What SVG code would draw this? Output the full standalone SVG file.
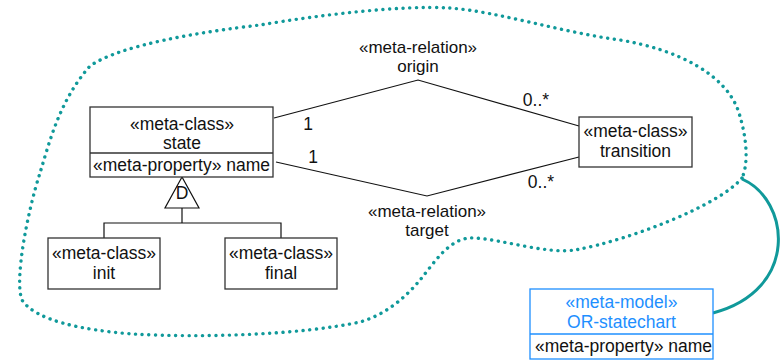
<svg xmlns="http://www.w3.org/2000/svg" width="782" height="361" viewBox="0 0 782 361">
  <style>
    .box { fill: #ffffff; stroke: #333333; stroke-width: 1.3; }
    .mbox { fill: #ffffff; stroke: #1e8fff; stroke-width: 1.3; }
    .line { fill: none; stroke: #111111; stroke-width: 1.2; }
    .t { font-family: "Liberation Sans", Arial, sans-serif; font-size: 17.5px; fill: #111111; }
    .r { font-size: 17px; }
    .c { text-anchor: middle; }
    .blue { fill: #1e8fff; }
    .blob { fill: none; stroke: #10999a; stroke-width: 3.4; stroke-linecap: round; stroke-dasharray: 0.1 6.6; }
    .link { fill: none; stroke: #10999a; stroke-width: 3; }
  </style>
  <rect width="782" height="361" fill="#ffffff"/>

  <!-- package boundary -->
  <path class="blob" d="M 742 178 C 720 205, 630 240, 575 250 C 545 254, 505 240, 475 238 C 450 236, 435 262, 420 280 C 405 298, 385 315, 360 322 C 300 335, 200 338, 133 334 C 80 330, 35 320, 22 300 C 14 280, 28 210, 40 173 C 50 140, 60 100, 90 66 C 120 45, 200 32, 260 25 C 320 15, 400 5, 450 8 C 500 12, 560 32, 620 40 C 680 50, 725 75, 738 110 C 748 140, 748 165, 742 178 Z"/>

  <g id="connectors">
    <path class="link" d="M 742 179 C 790 200, 800 290, 713 313"/>
    <polyline class="line" points="274,118 418,80 579,126"/>
    <polyline class="line" points="276,162 427,196 579,157"/>
    <polygon class="line" points="182,177 165,208 199,208" fill="#ffffff"/>
    <polyline class="line" points="182,208 182,223"/>
    <polyline class="line" points="104,238 104,223 281,223 281,238"/>
    <text class="t" x="182" y="199" text-anchor="middle" font-size="16">D</text>
    <text class="t r c" x="418" y="53">«meta-relation»</text>
    <text class="t r c" x="418" y="72">origin</text>
    <text class="t r c" x="427" y="217">«meta-relation»</text>
    <text class="t r c" x="427" y="236">target</text>
    <text class="t c" x="308" y="130">1</text>
    <text class="t c" x="313" y="163">1</text>
    <text class="t c" x="536" y="106">0..*</text>
    <text class="t c" x="541" y="188">0..*</text>
  </g>

  <g id="state">
    <rect class="box" x="90" y="107" width="183" height="70"/>
    <line class="box" x1="90" y1="153" x2="273" y2="153"/>
    <text class="t c" x="182" y="130">«meta-class»</text>
    <text class="t c" x="182" y="149">state</text>
    <text class="t" x="93" y="171">«meta-property» name</text>
  </g>

  <g id="transition">
    <rect class="box" x="579" y="117" width="113" height="50"/>
    <text class="t c" x="635.5" y="137">«meta-class»</text>
    <text class="t c" x="635.5" y="157">transition</text>
  </g>

  <g id="init">
    <rect class="box" x="48" y="238" width="112" height="51"/>
    <text class="t c" x="104" y="259">«meta-class»</text>
    <text class="t c" x="104" y="279">init</text>
  </g>

  <g id="final">
    <rect class="box" x="225" y="238" width="112" height="51"/>
    <text class="t c" x="281" y="259">«meta-class»</text>
    <text class="t c" x="281" y="279">final</text>
  </g>

  <g id="or-statechart">
    <rect class="mbox" x="530" y="289" width="183" height="70"/>
    <line class="mbox" x1="530" y1="334" x2="713" y2="334"/>
    <text class="t c blue" x="621.5" y="308">«meta-model»</text>
    <text class="t c blue" x="621.5" y="328">OR-statechart</text>
    <text class="t" x="535" y="352">«meta-property» name</text>
  </g>
</svg>
